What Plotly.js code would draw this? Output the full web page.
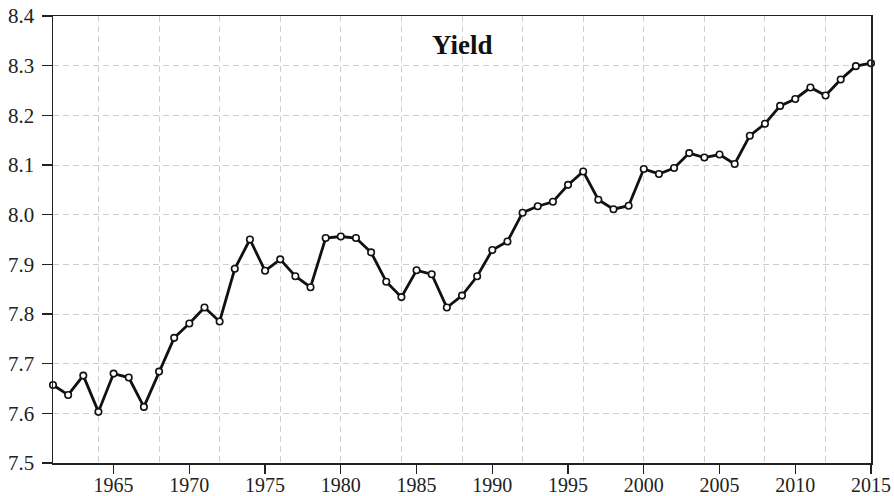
<!DOCTYPE html>
<html><head><meta charset="utf-8">
<script src="https://cdn.plot.ly/plotly-3.0.1.min.js"></script>
<style>html,body{margin:0;padding:0;background:#fff}#chart{width:894px;height:496px}</style>
</head><body><div id="chart"></div>
<script>
const years = [1961,1962,1963,1964,1965,1966,1967,1968,1969,1970,1971,1972,1973,1974,1975,1976,1977,1978,1979,1980,1981,1982,1983,1984,1985,1986,1987,1988,1989,1990,1991,1992,1993,1994,1995,1996,1997,1998,1999,2000,2001,2002,2003,2004,2005,2006,2007,2008,2009,2010,2011,2012,2013,2014,2015];
const yieldValues = [7.657,7.637,7.676,7.603,7.680,7.672,7.613,7.684,7.752,7.781,7.813,7.785,7.891,7.950,7.887,7.910,7.876,7.854,7.953,7.956,7.953,7.924,7.865,7.834,7.888,7.880,7.813,7.837,7.876,7.929,7.946,8.004,8.017,8.026,8.060,8.087,8.030,8.011,8.018,8.092,8.082,8.094,8.124,8.115,8.121,8.102,8.159,8.183,8.219,8.233,8.256,8.240,8.272,8.299,8.305];
const xTickYears = [1965,1970,1975,1980,1985,1990,1995,2000,2005,2010,2015];
const xGridYears = [1964,1968,1972,1976,1980,1984,1988,1992,1996,2000,2004,2008,2012];
const yTicks = [7.5,7.6,7.7,7.8,7.9,8.0,8.1,8.2,8.3,8.4];
const chartTitle = "Yield";

const serif = "'Liberation Serif','Times New Roman',serif";
const data = [
  {x: years, y: yieldValues, type: 'scatter', mode: 'lines+markers',
   line: {color: '#111', width: 2.8},
   marker: {symbol: 'circle', size: 6.5, color: '#fff', line: {color: '#111', width: 1.6}},
   cliponaxis: false, hoverinfo: 'x+y'},
  {x: [], y: [], xaxis: 'x2', type: 'scatter', hoverinfo: 'skip', showlegend: false}
];
const layout = {
  width: 894, height: 496,
  margin: {l: 53, r: 23, t: 16, b: 33},
  paper_bgcolor: '#fff', plot_bgcolor: '#fff',
  showlegend: false,
  font: {family: serif, size: 21, color: '#222'},
  xaxis: {
    range: [1961, 2015], tickvals: xTickYears, ticktext: xTickYears.map(String),
    ticks: 'outside', ticklen: 9, tickwidth: 1.2, tickcolor: '#222',
    ticklabelstandoff: -6,
    showgrid: false, zeroline: false,
    showline: true, linecolor: '#222', linewidth: 1.5, mirror: true,
    tickfont: {family: serif, size: 20, color: '#222'}
  },
  xaxis2: {
    overlaying: 'x', range: [1961, 2015], tickvals: xGridYears,
    showticklabels: false, ticks: '', showline: false, zeroline: false,
    showgrid: true, gridcolor: '#cfcfcf', gridwidth: 1, griddash: '6px,4px'
  },
  yaxis: {
    range: [7.5, 8.4], tickvals: yTicks, ticktext: yTicks.map(v => v.toFixed(1)),
    ticks: 'outside', ticklen: 10, tickwidth: 1.2, tickcolor: '#222',
    ticklabelstandoff: 3,
    showgrid: true, gridcolor: '#cfcfcf', gridwidth: 1, griddash: '6px,4px',
    zeroline: false,
    showline: true, linecolor: '#222', linewidth: 1.5, mirror: true,
    tickfont: {family: serif, size: 21, color: '#222'}
  },
  annotations: [{
    text: '<b>' + chartTitle + '</b>', xref: 'paper', yref: 'paper',
    x: 0.5, y: 0.935, xanchor: 'center', yanchor: 'middle', showarrow: false,
    font: {family: serif, size: 27, color: '#111'}
  }]
};
Plotly.newPlot('chart', data, layout, {displayModeBar: false, staticPlot: true});
</script></body></html>
